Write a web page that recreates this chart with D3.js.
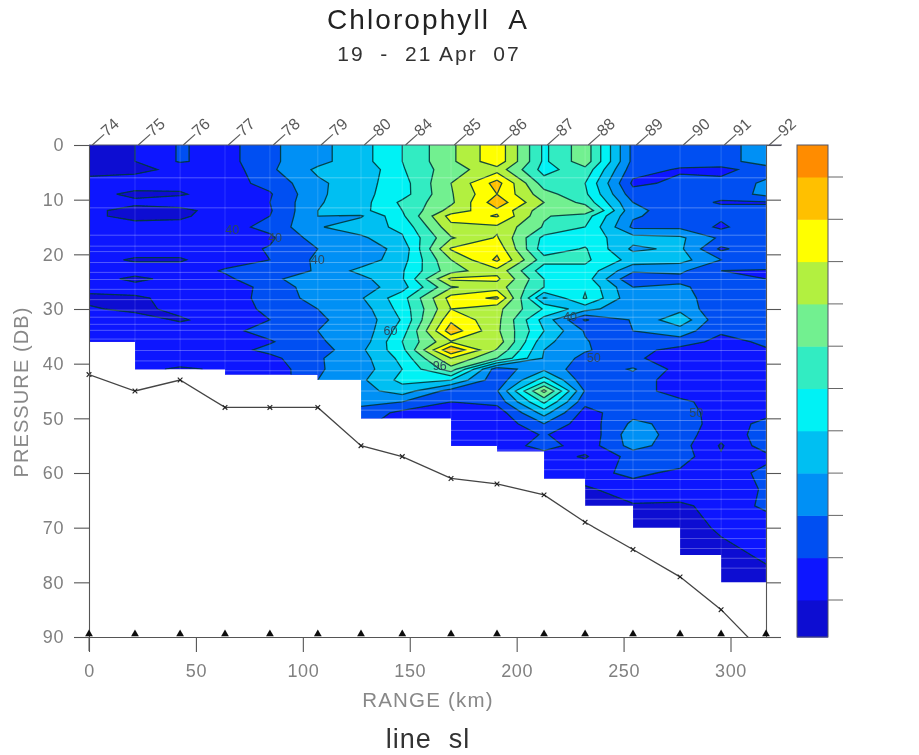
<!DOCTYPE html>
<html><head><meta charset="utf-8">
<script src="https://cdn.jsdelivr.net/npm/d3@7"></script>
<style>html,body{margin:0;padding:0;background:#fff}svg{display:block}text{font-family:"Liberation Sans",Arial,sans-serif}</style>
</head><body><svg id="c" width="919" height="755"></svg>
<script>
// --- data ---
const stationKm=[0,21.5,42.6,63.6,84.6,107,127.2,146.5,169.3,190.8,212.8,232,254.4,276.4,295.6,316.6];
const stationIds=["74","75","76","77","78","79","80","84","85","86","87","88","89","90","91","92"];
const bottomDepth=[42,45,43,48,48,48,55,57,61,62,64,69,74,79,85,93.4];
const fillDepth=[36,41,41,42,42,43,50,50,55,56,61,66,70,75,80,80];
const depthRows=[0,3,4.5,7,9,10.5,12,13,15,17,19,21,23,24.5,26,28,30,32,34,36,37.5,39,41,43,45,47,49,51,53,55,57,60,63,66,70,75,80];
// one list per depth row, one value per station, in colour-band units
const chlRows=[
[0.6,1.0,2.1,1.6,2.8,3.7,4.6,6.0,7.8,9.7,5.8,7.6,2.7,2.4,2.6,3.5],
[0.7,1.0,2.1,1.6,2.8,3.7,4.6,6.0,7.8,9.7,5.8,7.6,2.7,2.4,2.6,3.5],
[0.8,0.8,1.2,1.4,2.8,4.2,4.2,5.9,7.6,8.6,5.6,6.7,2.4,1.9,1.7,2.5],
[1.2,1.4,1.3,1.6,2.3,3.8,4.6,5.6,8.0,10.4,6.5,6.0,1.8,2.2,2.3,3.2],
[1.3,0.8,0.9,1.5,1.9,3.8,4.7,5.6,7.9,10.0,7.4,6.2,2.4,2.3,2.3,3.3],
[1.3,1.2,1.5,1.6,2.0,3.9,4.6,6.2,7.8,10.6,8.0,6.7,3.0,2.4,1.9,1.9],
[1.2,0.7,0.7,1.5,1.9,4.0,4.7,6.0,8.4,9.8,7.4,7.8,3.2,2.6,2.3,2.3],
[1.2,0.7,0.8,1.6,2.0,4.0,3.9,5.8,9.4,10.1,7.1,6.5,3.1,2.6,2.2,2.2],
[1.4,1.4,1.4,1.6,2.3,3.9,4.6,5.2,8.7,8.8,6.9,6.0,2.8,2.8,1.8,2.9],
[1.4,1.3,1.4,1.4,1.8,3.5,3.8,4.9,7.9,9.1,5.7,5.5,4.4,4.2,2.8,2.8],
[1.4,1.4,1.4,1.5,2.1,3.0,3.5,4.3,9.1,9.7,5.4,6.1,3.8,4.2,1.8,2.9],
[1.3,0.9,0.9,1.6,2.0,3.2,3.4,4.6,8.0,10.2,6.4,6.2,4.6,4.4,3.0,2.9],
[1.4,1.4,1.4,2.1,2.4,3.1,4.3,4.9,7.6,8.7,5.4,5.7,3.2,3.2,2.0,1.9],
[1.4,0.8,1.3,1.8,2.7,3.8,3.7,4.9,9.2,9.2,6.0,5.5,2.1,2.7,2.2,2.0],
[1.3,1.3,1.3,1.5,2.3,3.6,3.5,4.6,7.9,8.5,6.0,5.9,3.0,3.2,2.4,2.0],
[0.8,0.9,1.2,1.3,2.5,3.3,3.9,5.6,9.4,10.2,3.9,6.1,3.2,3.4,2.4,2.2],
[1.1,0.8,1.2,1.3,2.3,3.0,3.5,5.4,9.0,8.3,5.9,4.4,3.1,3.7,2.2,3.0],
[1.4,1.4,0.9,1.4,2.0,2.9,3.3,5.1,9.8,8.3,4.6,1.9,3.1,4.7,2.2,2.2],
[1.4,1.4,1.5,1.7,2.4,3.0,3.3,5.5,10.6,8.2,5.0,2.9,3.0,3.5,2.2,2.3],
[1.4,1.4,1.5,1.4,1.9,2.9,3.4,6.0,8.9,8.6,4.3,3.1,2.0,2.6,1.6,2.2],
[1.4,1.2,1.5,1.5,2.3,2.5,3.8,5.7,10.9,7.9,4.0,3.1,2.4,1.6,1.5,1.9],
[1.4,1.3,1.4,1.4,1.7,2.9,3.6,5.3,9.0,7.0,3.9,2.7,2.2,1.4,1.4,1.8],
[1.4,1.2,0.9,1.1,1.3,2.9,3.5,5.0,7.6,2.4,3.8,2.3,3.1,1.6,1.3,1.8],
[1.4,1.2,1.1,1.2,1.2,3.0,3.8,5.3,5.0,2.3,5.5,2.3,2.6,1.4,1.3,1.8],
[1.4,1.2,1.1,1.2,1.2,2.0,3.6,4.5,2.6,2.9,8.3,2.9,2.6,1.4,1.3,1.9],
[1.4,1.2,1.1,1.2,1.2,2.0,3.2,3.0,2.0,2.3,6.2,2.3,2.6,2.3,1.4,1.8],
[1.4,1.2,1.1,1.2,1.2,2.0,2.7,1.7,1.2,1.4,4.4,1.6,2.7,2.6,1.4,1.7],
[1.4,1.2,1.1,1.2,1.2,2.0,2.2,1.6,1.2,1.2,3.0,1.4,3.2,2.7,1.4,2.3],
[1.4,1.2,1.1,1.2,1.2,2.0,2.2,1.6,1.2,1.2,2.1,1.2,3.6,2.5,1.3,2.5],
[1.4,1.2,1.1,1.2,1.2,2.0,2.2,1.6,1.2,1.2,2.5,1.4,3.4,2.4,0.9,2.5],
[1.4,1.2,1.1,1.2,1.2,2.0,2.2,1.6,1.2,1.2,1.4,0.9,2.4,2.5,1.1,1.7],
[1.4,1.2,1.1,1.2,1.2,2.0,2.2,1.6,1.2,1.2,1.2,1.7,2.2,1.8,1.4,2.3],
[1.4,1.2,1.1,1.2,1.2,2.0,2.2,1.6,1.2,1.2,1.2,0.8,1.6,1.7,1.0,2.2],
[1.4,1.2,1.1,1.2,1.2,2.0,2.2,1.6,1.2,1.2,1.2,0.7,0.9,0.8,1.4,2.2],
[1.4,1.2,1.1,1.2,1.2,2.0,2.2,1.6,1.2,1.2,1.2,0.7,0.7,0.7,1.1,1.4],
[1.4,1.2,1.1,1.2,1.2,2.0,2.2,1.6,1.2,1.2,1.2,0.7,0.7,0.7,0.8,1.1],
[1.4,1.2,1.1,1.2,1.2,2.0,2.2,1.6,1.2,1.2,0.7,0.7,0.7,0.7,0.7,0.8]
];
const levels=[0,1,2,3,4,5,6,7,8,9,10,11];
const bandColors=["#0a0ad2","#0a14ff","#0050f2","#0090f5","#00bff2","#00f2f5","#30ecc2","#72f090","#b2f040","#ffff00","#ffc000","#ff8c00"];
const xTicks=[0,50,100,150,200,250,300];
const yTicks=[0,10,20,30,40,50,60,70,80,90];
const labelTexts=["40","40","40","40","50","50","96","60"];
const labelKm=[67,87,107,225,236,284,164,141];
const labelDb=[15.5,17,21,31.5,39,49,40.5,34];
const stripeDepths=[6,11.5,16.5,18.5,19.5,21.5,23.3,24.6,26.4,28.3,30.2,31.5,32.8,33.9,35.5,37.6,39.5,41.3,43,45,46.8,48.5,50.4,52.2,54,55.8,57.6,59.4,61.2,63,64.8,66.6,68.4,70.2,72,73.8,75.6,77.4];

// --- scales ---
const svg=d3.select("#c");
const x=d3.scaleLinear().domain([0,316.6]).range([89,766]);
const y=d3.scaleLinear().domain([0,90]).range([145,637]);
const barY=d3.scaleLinear().domain([1,11]).range([600,177]);

const defs=svg.append("defs");
defs.append("filter").attr("id","soft").attr("filterUnits","userSpaceOnUse").attr("x",0).attr("y",0).attr("width",919).attr("height",755)
  .append("feGaussianBlur").attr("stdDeviation",0.7);
const root=svg.append("g").attr("filter","url(#soft)");
const fillArea=d3.area().curve(d3.curveStepAfter).x((d,i)=>x(stationKm[i])).y0(y(0)).y1(d=>y(d));
defs.append("clipPath").attr("id","wet").append("path").attr("d",fillArea(fillDepth));
defs.append("clipPath").attr("id","plot").append("rect")
  .attr("x",x(0)).attr("y",y(0)).attr("width",x(316.6)-x(0)).attr("height",y(90)-y(0));

// --- contours: the grid is padded by one repeated row/column so no line runs along the edge ---
const n=stationKm.length,m=depthRows.length;
const padded=[];
for(let j=-1;j<=m;j++){const r=chlRows[Math.max(0,Math.min(m-1,j))];
  for(let i=-1;i<=n;i++)padded.push(r[Math.max(0,Math.min(n-1,i))]);}
const idxI=d3.range(-1,n+1),idxJ=d3.range(-1,m+1);
const kmOf=d3.scaleLinear().domain(idxI).range([-30,...stationKm,350]);
const dbOf=d3.scaleLinear().domain(idxJ).range([-5,...depthRows,90]);
const projection=d3.geoTransform({point(a,b){this.stream.point(x(kmOf(a-1.5)),y(dbOf(b-1.5)));}});
const path=d3.geoPath(projection);
const contours=d3.contours().size([n+2,m+2]).thresholds(levels.slice(1))(padded);

const field=root.append("g").attr("clip-path","url(#wet)");
field.append("rect").attr("x",x(0)).attr("y",y(0)).attr("width",x(316.6)-x(0)).attr("height",y(90)-y(0)).attr("fill",bandColors[0]);
field.selectAll("path.b").data(contours).join("path").attr("class","b")
  .attr("d",path).attr("fill",d=>bandColors[d.value]);
field.selectAll("path.l").data(contours).join("path").attr("class","l")
  .attr("d",path).attr("fill","none").attr("stroke","#04383a").attr("stroke-opacity",0.9).attr("stroke-width",1.3);
// pale scan lines seen across the field
field.selectAll("line.s").data(stripeDepths).join("line").attr("class","s")
  .attr("x1",x(0)).attr("x2",x(316.6)).attr("y1",d=>y(d)).attr("y2",d=>y(d))
  .attr("stroke","#fff").attr("stroke-opacity",0.3).attr("stroke-width",1);
field.selectAll("line.v").data(stationKm).join("line").attr("class","v")
  .attr("x1",d=>x(d)).attr("x2",d=>x(d)).attr("y1",y(0)).attr("y2",y(90))
  .attr("stroke","#fff").attr("stroke-opacity",0.16).attr("stroke-width",1);

// contour labels
root.append("g").selectAll("text").data(labelTexts).join("text")
  .attr("x",(d,i)=>x(labelKm[i])).attr("y",(d,i)=>y(labelDb[i])+4).attr("text-anchor","middle")
  .attr("font-size",12.5).attr("fill","#2a4a60").text(d=>d);

// bottom profile
const line=d3.line().x((d,i)=>x(stationKm[i])).y(d=>y(d));
const bottomG=root.append("g").attr("clip-path","url(#plot)");
bottomG.append("path").attr("d",line(bottomDepth)).attr("fill","none").attr("stroke","#444").attr("stroke-width",1.3);
root.append("g").selectAll("path").data(bottomDepth.filter(d=>d<=90)).join("path")
  .attr("d",d3.symbol(d3.symbolTimes,16)).attr("transform",(d,i)=>`translate(${x(stationKm[i])},${y(d)})`)
  .attr("fill","none").attr("stroke","#222").attr("stroke-width",1.1);

// axes
const gray="#808080";
function styleAxis(g){g.selectAll("path,line").attr("stroke","#555").attr("stroke-width",1.1);
  g.selectAll("text").attr("fill",gray).attr("font-size",18).attr("letter-spacing",0.6).style("font-family",'"Liberation Sans",Arial,sans-serif');}
root.append("g").attr("transform",`translate(0,${y(90)})`)
  .call(d3.axisBottom(x).tickValues(xTicks).tickSize(15).tickSizeOuter(0).tickPadding(12)).call(styleAxis);
root.append("g").attr("transform",`translate(${x(0)},0)`)
  .call(d3.axisLeft(y).tickValues(yTicks).tickSize(15).tickSizeOuter(0).tickPadding(10)).call(styleAxis);
root.append("g").attr("transform",`translate(${x(316.6)},0)`)
  .call(d3.axisRight(y).tickValues(yTicks).tickSize(15).tickSizeOuter(0).tickFormat("")).call(styleAxis);
root.append("line").attr("x1",x(0)).attr("x2",782).attr("y1",y(0)).attr("y2",y(0)).attr("stroke","#556").attr("stroke-width",1);
root.append("line").attr("x1",x(0)).attr("x2",x(0)).attr("y1",y(90)).attr("y2",651).attr("stroke","#555");

// station marks
root.append("g").selectAll("path").data(stationKm).join("path")
  .attr("d",d3.symbol(d3.symbolTriangle,26)).attr("transform",d=>`translate(${x(d)},${y(90)-3})`).attr("fill","#111");
root.append("g").selectAll("text").data(stationIds).join("text")
  .attr("transform",(d,i)=>`translate(${x(stationKm[i])+6},${y(0)+3}) rotate(-42)`)
  .attr("font-size",16).attr("fill","#5a5a5a").text(d=>"\u2014"+d);

// colour bar
const barEdge=i=>Math.max(145,Math.min(637,barY(i)));
root.append("g").selectAll("rect").data(bandColors).join("rect")
  .attr("x",797).attr("width",31)
  .attr("y",(d,i)=>barEdge(i+1)).attr("height",(d,i)=>barEdge(i)-barEdge(i+1)+0.5).attr("fill",d=>d);
root.append("rect").attr("x",797).attr("y",145).attr("width",31).attr("height",492).attr("fill","none").attr("stroke","#556").attr("stroke-width",1);
root.append("g").selectAll("line").data(levels.slice(1)).join("line")
  .attr("x1",828).attr("x2",843).attr("y1",d=>barY(d)).attr("y2",d=>barY(d)).attr("stroke","#666");

// titles
const txt=(s,a,b,size,col,ls)=>root.append("text").attr("x",a).attr("y",b).attr("text-anchor","middle")
  .attr("font-size",size).attr("fill",col).attr("letter-spacing",ls).style("white-space","pre").text(s);
txt("Chlorophyll  A",428,29,28,"#222",2.1);
txt("19  -  21 Apr  07",429,61,21,"#333",2);
txt("RANGE (km)",428,707,20.5,"#888",1.2);
txt("line  sl",428,748,27,"#333",1);
root.append("text").attr("transform","translate(28,392) rotate(-90)").attr("text-anchor","middle")
  .attr("font-size",20).attr("fill","#888").attr("letter-spacing",1.1).text("PRESSURE (DB)");
</script></body></html>
